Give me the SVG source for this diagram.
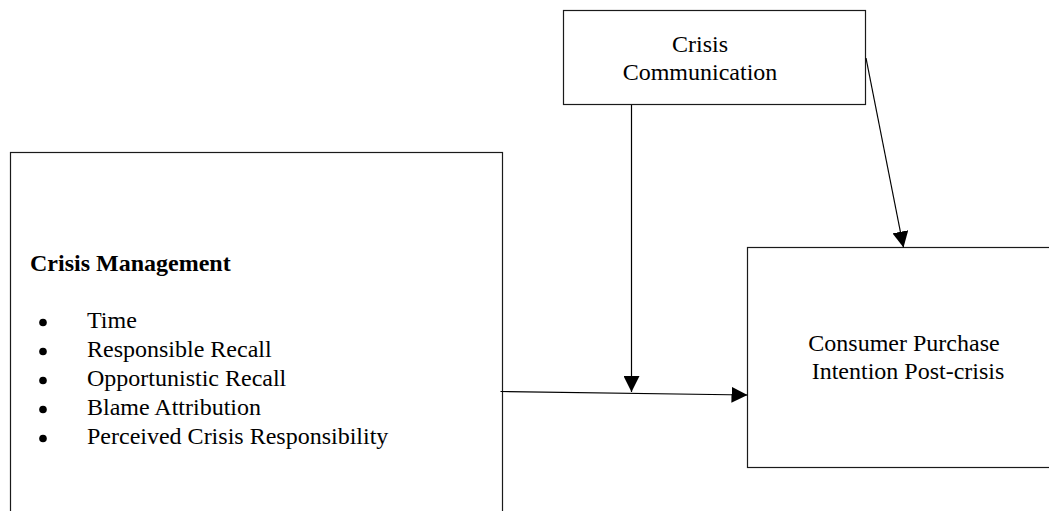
<svg xmlns="http://www.w3.org/2000/svg" width="1049" height="511" viewBox="0 0 1049 511">
<style>
.box{fill:#fff;stroke:#1a1a1a;stroke-width:1.2}
.t{font-family:"Liberation Serif","Times New Roman",serif;font-size:24px;fill:#000}
.b{font-weight:bold}
.c{text-anchor:middle}
.dot{fill:#000}
.edge{stroke:#000;stroke-width:1.2;fill:none;marker-end:url(#ah)}
</style>
<defs>
<marker id="ah" viewBox="0 0 16 16" refX="16" refY="8" markerWidth="16" markerHeight="16" markerUnits="userSpaceOnUse" orient="auto">
<path d="M0,0 L16,8 L0,16 Z" fill="#000"/>
</marker>
</defs>
<g id="crisis-communication">
<rect class="box" x="563.5" y="10.5" width="302" height="94"/>
<text class="t c" x="700" y="52">Crisis</text>
<text class="t c" x="700" y="80">Communication</text>
</g>
<g id="crisis-management">
<rect class="box" x="10.5" y="152.5" width="492" height="370"/>
<text class="t b" x="30" y="271">Crisis Management</text>
<g class="t">
<circle class="dot" cx="43" cy="322.5" r="3.8"/><text x="87" y="328">Time</text>
<circle class="dot" cx="43" cy="351.5" r="3.8"/><text x="87" y="357">Responsible Recall</text>
<circle class="dot" cx="43" cy="380.5" r="3.8"/><text x="87" y="386">Opportunistic Recall</text>
<circle class="dot" cx="43" cy="409.5" r="3.8"/><text x="87" y="415">Blame Attribution</text>
<circle class="dot" cx="43" cy="438.5" r="3.8"/><text x="87" y="444">Perceived Crisis Responsibility</text>
</g>
</g>
<g id="purchase-intention">
<rect class="box" x="747.5" y="247.5" width="310" height="220"/>
<text class="t c" x="904" y="351">Consumer Purchase</text>
<text class="t c" x="908" y="379">Intention Post-crisis</text>
</g>
<g id="connectors">
<path class="edge" d="M631.5,105 L631.5,392"/>
<path class="edge" d="M500.5,391.5 L747.5,395"/>
<path class="edge" d="M866,58 L903.5,247.5"/>
</g>
</svg>
